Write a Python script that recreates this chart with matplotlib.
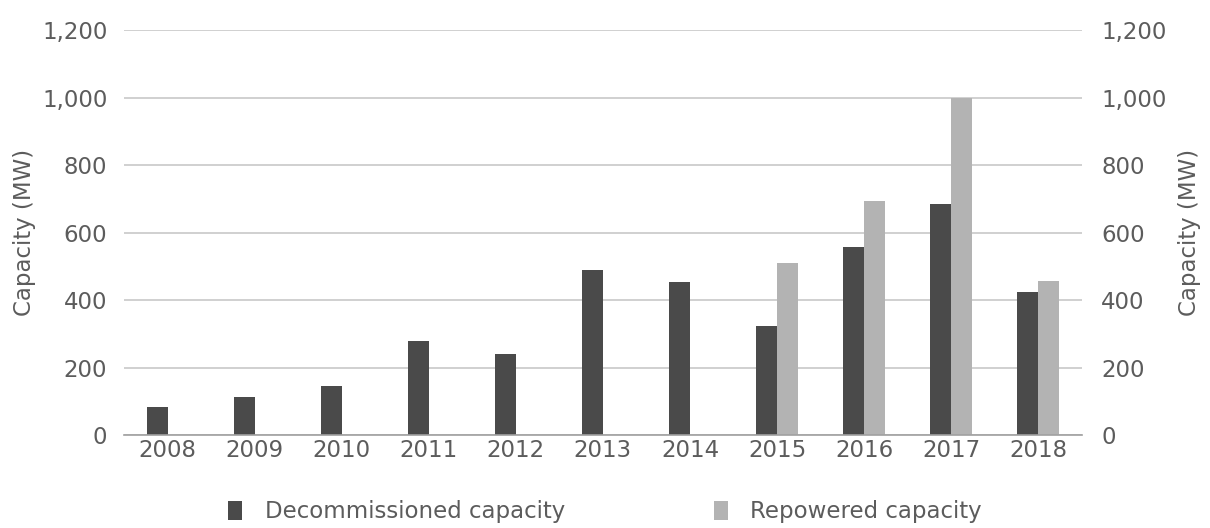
import numpy as np
import matplotlib.pyplot as plt
from matplotlib.ticker import FuncFormatter

plt.rcParams['font.family'] = ['DejaVu Sans']

years = ['2008', '2009', '2010', '2011', '2012', '2013', '2014', '2015', '2016', '2017', '2018']
decommissioned = [84, 113, 145, 278, 240, 489, 453, 323, 557, 684, 423]
repowered = [0, 0, 0, 0, 0, 0, 0, 510, 695, 998, 458]

DARK = '#4a4a4a'
LIGHT = '#b3b3b3'
TEXT = '#5c5c5c'
W = 0.24
FS = 16.5

fig = plt.figure(figsize=(12.1, 5.28), dpi=100)
ax = fig.add_axes([0.1025, 0.176, 0.7915, 0.767])
x = np.arange(len(years))

ax.set_axisbelow(True)
ax.grid(axis='y', color='#c8c8c8', linewidth=1.2)
ax.bar(x - W / 2, decommissioned, W, color=DARK, label='Decommissioned capacity')
ax.bar(x + W / 2, repowered, W, color=LIGHT, label='Repowered capacity')

ax.set_xlim(-0.5, len(years) - 0.5)
ax.set_ylim(0, 1200)
ax.set_yticks(np.arange(0, 1201, 200))
fmt = FuncFormatter(lambda v, p: f'{int(v):,}')
ax.yaxis.set_major_formatter(fmt)
ax.set_xticks(x, years)

for s in ['top', 'right', 'left']:
    ax.spines[s].set_visible(False)
ax.spines['bottom'].set_color('#a0a0a0')
ax.spines['bottom'].set_linewidth(1.2)
ax.tick_params(axis='both', length=0, labelsize=FS, colors=TEXT)
ax.tick_params(axis='y', pad=12)
ax.tick_params(axis='x', pad=3)
ax.set_ylabel('Capacity (MW)', fontsize=FS, color=TEXT, labelpad=4)

# mirrored axis on the right
ax2 = ax.twinx()
ax2.set_ylim(0, 1200)
ax2.set_yticks(np.arange(0, 1201, 200))
ax2.yaxis.set_major_formatter(fmt)
for s in ax2.spines.values():
    s.set_visible(False)
ax2.tick_params(axis='y', length=0, labelsize=FS, colors=TEXT, pad=14)
ax2.set_ylabel('Capacity (MW)', fontsize=FS, color=TEXT, rotation=90, labelpad=8)

fig.legend(loc='lower center', bbox_to_anchor=(0.5, -0.03), ncol=2, frameon=False,
           fontsize=FS, labelcolor=TEXT, handlelength=0.6, handleheight=0.9,
           columnspacing=6.5, handletextpad=1.0)

fig.savefig('out.png', dpi=100)
